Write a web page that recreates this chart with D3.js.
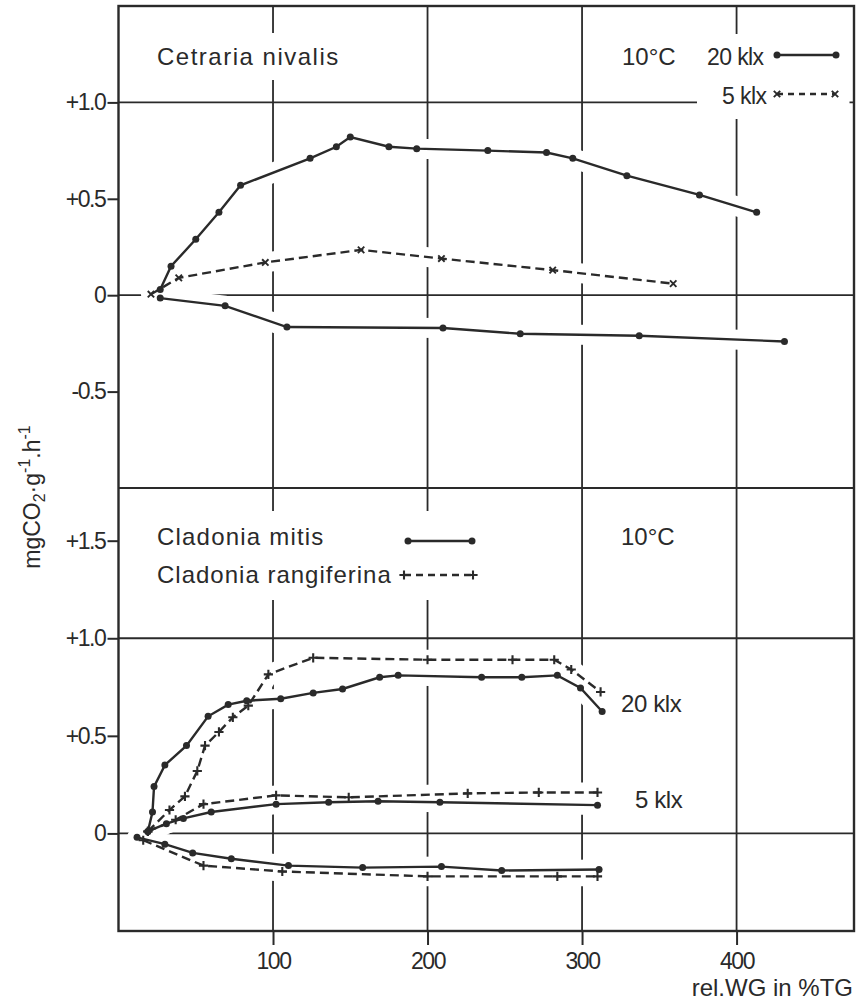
<!DOCTYPE html>
<html>
<head>
<meta charset="utf-8">
<script src="https://cdn.jsdelivr.net/npm/d3@7"></script>
<style>
  html, body { margin: 0; padding: 0; background: #fff; }
  svg { display: block; }
  text { font-family: "Liberation Sans", Arial, sans-serif; fill: #2a2a2a; }
</style>
</head>
<body>
<div id="chart"></div>
<script>
// Photosynthesis / respiration vs. relative water content, two lichen panels

// Top panel: Cetraria nivalis, 10°C   [rel.WG %, mgCO2 g-1 h-1]
const cetraria20 = [[27,0.03],[34,0.15],[50,0.29],[65,0.43],[79,0.57],[124,0.71],[141,0.77],[150,0.82],[175,0.77],[193,0.76],[239,0.75],[277,0.74],[294,0.71],[329,0.62],[376,0.52],[413,0.43]];
const cetraria5  = [[21,0.005],[39,0.09],[95,0.17],[157,0.235],[209,0.19],[281,0.13],[359,0.06]];
const cetrariaDark = [[27,-0.015],[69,-0.055],[109,-0.165],[210,-0.17],[260,-0.2],[337,-0.21],[431,-0.24]];

// Bottom panel: Cladonia mitis / Cladonia rangiferina, 10°C
const mitis20 = [[19,0.01],[22,0.11],[23,0.24],[30,0.35],[44,0.45],[58,0.6],[71,0.66],[83,0.68],[105,0.69],[126,0.72],[145,0.74],[169,0.8],[181,0.81],[235,0.8],[261,0.8],[284,0.81],[299,0.745],[313,0.625]];
const rangiferina20 = [[19,0.01],[33,0.12],[43,0.19],[51,0.32],[56,0.45],[65,0.52],[74,0.595],[84,0.655],[97,0.815],[126,0.9],[200,0.89],[255,0.89],[282,0.89],[293,0.84],[312,0.725]];
const mitis5 = [[19,0.01],[31,0.05],[42,0.077],[60,0.11],[102,0.15],[136,0.16],[168,0.165],[208,0.16],[310,0.145]];
const rangiferina5 = [[19,0.01],[37,0.07],[55,0.15],[102,0.195],[149,0.185],[226,0.205],[272,0.21],[310,0.21]];
const mitisDark = [[12,-0.02],[30,-0.055],[48,-0.1],[73,-0.13],[110,-0.165],[158,-0.175],[209,-0.17],[248,-0.19],[311,-0.185]];
const rangiferinaDark = [[16,-0.035],[55,-0.165],[106,-0.195],[200,-0.22],[284,-0.22],[310,-0.22]];

// Ticks
const xTicks = [100, 200, 300, 400];
const topYTicks = [1.0, 0.5, 0, -0.5];
const topYLabels = ["+1.0", "+0.5", "0", "-0.5"];
const botYTicks = [1.5, 1.0, 0.5, 0];
const botYLabels = ["+1.5", "+1.0", "+0.5", "0"];
const topGrid = [1.0, 0];
const botGrid = [1.0, 0];

const width = 860, height = 1001;
const ink = "#2a2a2a";
const dash = "9,5";

const svg = d3.select("#chart").append("svg")
  .attr("width", width)
  .attr("height", height);

// Scales
const x = d3.scaleLinear().domain([0, 476]).range([118.5, 854]);
const yTop = d3.scaleLinear().domain([-1, 1.5]).range([488, 6]);
const yBot = d3.scaleLinear().domain([-0.5, 1.77]).range([931, 488]);

const gridG  = svg.append("g");
const haloG  = svg.append("g");
const maskG  = svg.append("g");
const lineG  = svg.append("g");
const textG  = svg.append("g");
const frameG = svg.append("g");

// Grid lines
gridG.selectAll("line.v")
  .data(xTicks)
  .join("line")
    .attr("x1", d => x(d)).attr("x2", d => x(d))
    .attr("y1", yTop(1.5)).attr("y2", yBot(-0.5))
    .attr("stroke", ink).attr("stroke-width", 1.8);

[[yTop, topGrid], [yBot, botGrid]].forEach(([y, vals]) => {
  gridG.append("g").selectAll("line")
    .data(vals)
    .join("line")
      .attr("x1", x(0)).attr("x2", x(476))
      .attr("y1", d => y(d)).attr("y2", d => y(d))
      .attr("stroke", ink).attr("stroke-width", 1.8);
});

// Series
const series = [
  { data: cetraria20,      y: yTop, dash: null, mark: "dot" },
  { data: cetraria5,       y: yTop, dash: dash, mark: "x" },
  { data: cetrariaDark,    y: yTop, dash: null, mark: "dot" },
  { data: mitis20,         y: yBot, dash: null, mark: "dot" },
  { data: rangiferina20,   y: yBot, dash: dash, mark: "plus" },
  { data: mitis5,          y: yBot, dash: null, mark: "dot" },
  { data: rangiferina5,    y: yBot, dash: dash, mark: "plus" },
  { data: mitisDark,       y: yBot, dash: null, mark: "dot" },
  { data: rangiferinaDark, y: yBot, dash: dash, mark: "plus" }
];

// white halo first, so the grid gets broken where curves cross it
series.forEach(s => {
  const line = d3.line().x(d => x(d[0])).y(d => s.y(d[1]));
  haloG.append("path")
    .attr("d", line(s.data))
    .attr("fill", "none")
    .attr("stroke", "#fff")
    .attr("stroke-width", 20)
    .attr("stroke-linejoin", "round")
    .attr("stroke-linecap", "round");
});

series.forEach(s => {
  const line = d3.line().x(d => x(d[0])).y(d => s.y(d[1]));
  lineG.append("path")
    .attr("d", line(s.data))
    .attr("fill", "none")
    .attr("stroke", ink)
    .attr("stroke-width", 2.4)
    .attr("stroke-dasharray", s.dash);
  drawMarks(lineG, s.data.map(d => [x(d[0]), s.y(d[1])]), s.mark);
});

function drawMarks(g, pts, mark) {
  pts.forEach(([px, py]) => {
    if (mark === "dot") {
      g.append("circle")
        .attr("cx", px).attr("cy", py).attr("r", 3.5)
        .attr("fill", ink);
    } else if (mark === "x") {
      const r = 3.2;
      g.append("path")
        .attr("d", `M${px - r},${py - r}L${px + r},${py + r}M${px - r},${py + r}L${px + r},${py - r}`)
        .attr("stroke", ink).attr("stroke-width", 1.9);
    } else {
      const r = 4.6;
      g.append("path")
        .attr("d", `M${px - r},${py}L${px + r},${py}M${px},${py - r}L${px},${py + r}`)
        .attr("stroke", ink).attr("stroke-width", 2.1);
    }
  });
}

// Labels with white backing so the grid is cut around them
function label(g, px, py, str, size, spacing = 1) {
  return g.append("text")
    .attr("x", px).attr("y", py)
    .attr("font-size", size)
    .attr("letter-spacing", spacing)
    .text(str);
}

function backing(node, padX, padY) {
  const b = node.getBBox();
  maskG.append("rect")
    .attr("x", b.x - padX).attr("y", b.y - padY)
    .attr("width", b.width + 2 * padX).attr("height", b.height + 2 * padY)
    .attr("fill", "#fff");
}

// Top panel texts
const tTitle = label(textG, 157, 65, "Cetraria nivalis", 24, 1.5);
backing(tTitle.node(), 6, 10);
label(textG, 622, 65, "10°C", 24, 0);

const legTop = textG.append("g");
label(legTop, 707, 65, "20 klx", 23, -0.6);
label(legTop, 722, 104, "5 klx", 23, -0.6);
legTop.append("line")
  .attr("x1", 777).attr("x2", 836).attr("y1", 55).attr("y2", 55)
  .attr("stroke", ink).attr("stroke-width", 2.4);
drawMarks(legTop, [[777, 55], [836, 55]], "dot");
legTop.append("line")
  .attr("x1", 777).attr("x2", 835).attr("y1", 94).attr("y2", 94)
  .attr("stroke", ink).attr("stroke-width", 2.4).attr("stroke-dasharray", "6,5");
drawMarks(legTop, [[777, 94], [835, 94]], "x");
backing(legTop.node(), 10, 10);

// Bottom panel texts
const legBot = textG.append("g");
label(legBot, 157, 545, "Cladonia mitis", 24, 1.2);
label(legBot, 157, 583, "Cladonia rangiferina", 24, 1.0);
legBot.append("line")
  .attr("x1", 408).attr("x2", 472).attr("y1", 541).attr("y2", 541)
  .attr("stroke", ink).attr("stroke-width", 2.4);
drawMarks(legBot, [[408, 541], [472, 541]], "dot");
legBot.append("line")
  .attr("x1", 404).attr("x2", 473).attr("y1", 575).attr("y2", 575)
  .attr("stroke", ink).attr("stroke-width", 2.4).attr("stroke-dasharray", "7,5");
drawMarks(legBot, [[404, 575], [473, 575]], "plus");
backing(legBot.node(), 10, 12);

label(textG, 621, 545, "10°C", 24, 0);
label(textG, 621, 712, "20 klx", 24, -0.4);
label(textG, 635, 808, "5 klx", 24, -0.4);

// Frame and panel divider
frameG.append("rect")
  .attr("x", x(0)).attr("y", yTop(1.5))
  .attr("width", x(476) - x(0)).attr("height", yBot(-0.5) - yTop(1.5))
  .attr("fill", "none").attr("stroke", ink).attr("stroke-width", 2.4);
frameG.append("line")
  .attr("x1", x(0)).attr("x2", x(476))
  .attr("y1", yTop(-1)).attr("y2", yTop(-1))
  .attr("stroke", ink).attr("stroke-width", 2);

// Axes
const axisTop = d3.axisLeft(yTop).tickValues(topYTicks).tickSize(11).tickPadding(2)
  .tickFormat((d, i) => topYLabels[i]);
const axisBot = d3.axisLeft(yBot).tickValues(botYTicks).tickSize(11).tickPadding(2)
  .tickFormat((d, i) => botYLabels[i]);
const axisX = d3.axisBottom(x).tickValues(xTicks).tickSize(14).tickPadding(8)
  .tickFormat(d3.format("d"));

[[axisTop, `translate(${x(0)},0)`], [axisBot, `translate(${x(0)},0)`], [axisX, `translate(0,${yBot(-0.5)})`]]
  .forEach(([ax, tr]) => {
    frameG.append("g")
      .attr("transform", tr)
      .call(ax)
      .call(g => g.select(".domain").remove())
      .call(g => g.selectAll(".tick line").attr("stroke", ink).attr("stroke-width", 2))
      .call(g => g.selectAll(".tick text")
        .attr("fill", ink)
        .attr("font-size", 23)
        .attr("letter-spacing", -1.4)
        .attr("font-family", null));
  });

// Axis titles
const yTitle = textG.append("text")
  .attr("transform", "translate(40,497) rotate(-90)")
  .attr("text-anchor", "middle")
  .attr("font-size", 23);
yTitle.append("tspan").text("mgCO");
yTitle.append("tspan").attr("font-size", 16).attr("dy", 5).text("2");
yTitle.append("tspan").attr("dy", -5).text("·g");
yTitle.append("tspan").attr("font-size", 16).attr("dy", -10).text("-1");
yTitle.append("tspan").attr("dy", 10).text(".h");
yTitle.append("tspan").attr("font-size", 16).attr("dy", -10).text("-1");

textG.append("text")
  .attr("x", 853).attr("y", 996)
  .attr("text-anchor", "end")
  .attr("font-size", 24)
  .text("rel.WG in %TG");
</script>
</body>
</html>
